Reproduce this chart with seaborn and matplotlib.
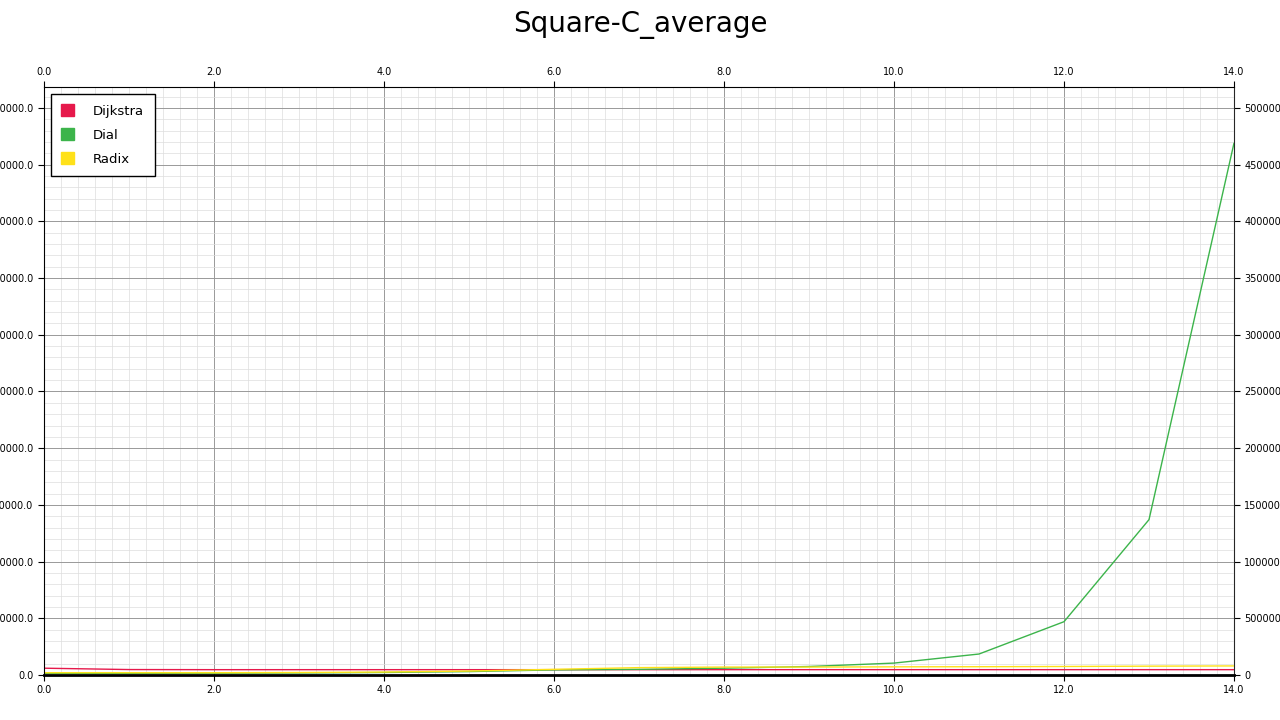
import numpy as np
import pandas as pd
import matplotlib.pyplot as plt
import seaborn as sns
from matplotlib.ticker import MultipleLocator, FormatStrFormatter

x_vals = list(range(15))
dijkstra = [600000, 480000, 470000, 470000, 470000, 470000, 470000, 470000, 470000, 470000, 470000, 470000, 470000, 470000, 470000]
dial = [150000, 150000, 160000, 180000, 220000, 300000, 450000, 500000, 600000, 750000, 1050000, 1850000, 4700000, 13700000, 46900000]
radix = [200000, 200000, 200000, 220000, 260000, 350000, 500000, 650000, 700000, 700000, 720000, 730000, 750000, 780000, 800000]

df = pd.DataFrame({"x": x_vals * 3,
                   "value": dijkstra + dial + radix,
                   "algo": ["Dijkstra"] * 15 + ["Dial"] * 15 + ["Radix"] * 15})
colors = {"Dijkstra": "#e6194b", "Dial": "#3cb44b", "Radix": "#ffe119"}

sns.set_style("white")
plt.rcParams["text.color"] = "black"
plt.rcParams["xtick.color"] = "black"
plt.rcParams["ytick.color"] = "black"
fig = plt.figure(figsize=(12.8, 7.2), dpi=100)
ax = fig.add_axes([44 / 1280, 45 / 720, 1190 / 1280, 588 / 720])
sns.lineplot(data=df, x="x", y="value", hue="algo", palette=colors, linewidth=1, ax=ax, legend=False)

ax.set_xlim(0, 14)
ax.set_ylim(0, 51850000)
ax.xaxis.set_major_locator(MultipleLocator(2))
ax.xaxis.set_minor_locator(MultipleLocator(0.2))
ax.yaxis.set_major_locator(MultipleLocator(5000000))
ax.yaxis.set_minor_locator(MultipleLocator(1000000))
ax.xaxis.set_major_formatter(FormatStrFormatter("%.1f"))
ax.yaxis.set_major_formatter(FormatStrFormatter("%.1f"))
ax.grid(which="major", color="#999999", linewidth=0.7)
ax.grid(which="minor", color="#dddddd", linewidth=0.5)
ax.tick_params(axis="both", which="major", labelsize=7, length=4, direction="out",
               top=True, labeltop=True, bottom=True, left=True, right=False, labelright=False)
ax.tick_params(which="minor", length=0)
ax.set_xlabel("")
ax.set_ylabel("")
for s in ["top", "left", "bottom"]:
    ax.spines[s].set_color("black")
ax.spines["bottom"].set_linewidth(2)
ax.spines["right"].set_visible(False)

sec = ax.secondary_yaxis("right")
sec.yaxis.set_major_locator(MultipleLocator(5000000))
sec.yaxis.set_major_formatter(FormatStrFormatter("%d"))
sec.tick_params(labelsize=7, length=4)

handles = [plt.Rectangle((0, 0), 1, 1, color=colors[k]) for k in ["Dijkstra", "Dial", "Radix"]]
leg = ax.legend(handles, ["Dijkstra", "Dial", "Radix"], loc="upper left", fancybox=False,
                edgecolor="black", framealpha=1, fontsize=9.5, handlelength=1, handleheight=1,
                borderpad=0.8, labelspacing=0.8, handletextpad=1.4)
leg.get_frame().set_linewidth(1)

fig.suptitle("Square-C_average", fontsize=20, y=0.985, color="black")
fig.savefig("out.png", dpi=100)
